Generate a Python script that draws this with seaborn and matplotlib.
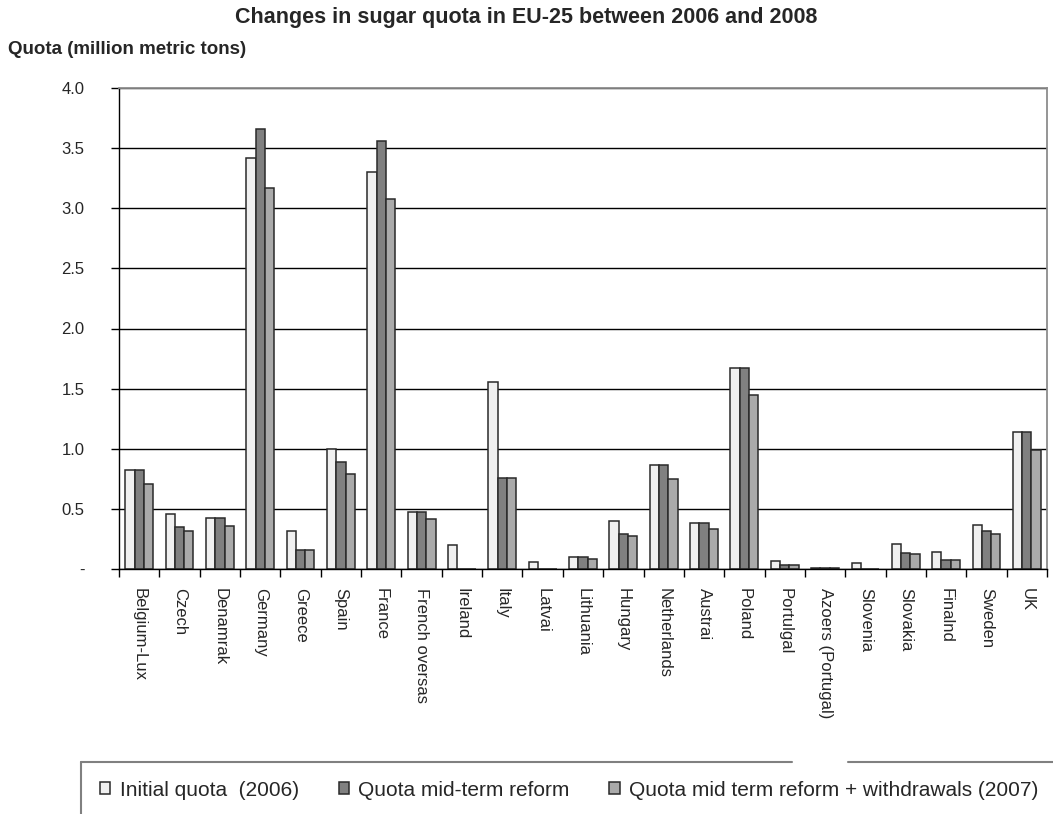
import numpy as np
import pandas as pd
import matplotlib.pyplot as plt
import seaborn as sns
from matplotlib.lines import Line2D

# data (million metric tons)
countries = ['Belgium-Lux', 'Czech', 'Denamrak', 'Germany', 'Greece', 'Spain', 'France',
             'French oversas', 'Ireland', 'Italy', 'Latvai', 'Lithuania', 'Hungary',
             'Netherlands', 'Austrai', 'Poland', 'Portulgal', 'Azoers (Portugal)',
             'Slovenia', 'Slovakia', 'Finalnd', 'Sweden', 'UK']
initial = [0.82, 0.455, 0.42, 3.42, 0.316, 1.00, 3.30, 0.477, 0.197, 1.557, 0.061, 0.10,
           0.40, 0.862, 0.385, 1.672, 0.067, 0.009, 0.053, 0.205, 0.144, 0.366, 1.139]
mid_term = [0.82, 0.35, 0.42, 3.66, 0.155, 0.887, 3.56, 0.477, 0.0, 0.754, 0.0, 0.10,
            0.294, 0.862, 0.385, 1.672, 0.033, 0.009, 0.0, 0.136, 0.072, 0.32, 1.139]
withdrawals = [0.71, 0.32, 0.36, 3.17, 0.155, 0.79, 3.08, 0.415, 0.0, 0.754, 0.0, 0.083,
               0.274, 0.746, 0.333, 1.447, 0.033, 0.009, 0.0, 0.127, 0.072, 0.288, 0.987]
series_names = ['Initial quota  (2006)', 'Quota mid-term reform',
                'Quota mid term reform + withdrawals (2007)']
series_colors = ['#f0f0f0', '#808080', '#aaaaaa']
ytick_vals = [0, 0.5, 1.0, 1.5, 2.0, 2.5, 3.0, 3.5, 4.0]
ytick_labels = ['-', '0.5', '1.0', '1.5', '2.0', '2.5', '3.0', '3.5', '4.0']

df = pd.DataFrame({
    'country': countries * 3,
    'quota': initial + mid_term + withdrawals,
    'series': np.repeat(series_names, len(countries)),
})

sns.set_style('white')
plt.rcParams['font.family'] = ['Liberation Sans', 'DejaVu Sans']

W, H = 1053, 814
fig = plt.figure(figsize=(W / 100, H / 100), dpi=100)
ax = fig.add_axes([119 / W, 1 - 569 / H, (1047 - 119) / W, (569 - 88) / H])

sns.barplot(data=df, x='country', y='quota', hue='series', hue_order=series_names,
            palette=series_colors, saturation=1, width=0.69, edgecolor='#2a2a2a',
            linewidth=1.1, ax=ax)

handles, labels = ax.get_legend_handles_labels()
ax.get_legend().remove()

ax.set_xlim(-0.5, len(countries) - 0.5)
ax.set_ylim(0, 4)
ax.set_yticks(ytick_vals)
ax.set_yticklabels(ytick_labels)
ax.yaxis.grid(True, color='black', lw=1)
ax.set_axisbelow(True)
ax.set_xlabel('')
ax.set_ylabel('')

for side in ['left', 'bottom']:
    ax.spines[side].set_color('black')
    ax.spines[side].set_linewidth(1)
for side in ['top', 'right']:
    ax.spines[side].set_color('#8c8c8c')
    ax.spines[side].set_linewidth(1.3)

ax.tick_params(axis='y', left=True, direction='out', length=6, width=1, color='black',
               pad=19, labelsize=12)
ax.set_xticks(range(len(countries)))
ax.set_xticklabels(countries, rotation=-90, va='top', ha='center', fontsize=12)
ax.tick_params(axis='x', which='major', bottom=True, length=0, pad=14)
ax.set_xticks(np.arange(-0.5, len(countries), 1), minor=True)
ax.tick_params(axis='x', which='minor', bottom=True, direction='out', length=6, width=1,
               color='black')

fig.text(0.5, 1 - 17 / H, 'Changes in sugar quota in EU-25 between 2006 and 2008',
         ha='center', va='center', fontweight='bold', fontsize=15.5)
fig.text(8 / W, 1 - 50 / H, 'Quota (million metric tons)', ha='left', va='center',
         fontweight='bold', fontsize=13.5)

fig.legend(handles, labels, loc='center left', bbox_to_anchor=(100 / W, 1 - 790 / H),
           ncol=3, frameon=False, fontsize=15, handlelength=0.5, handleheight=0.5,
           handletextpad=0.45, columnspacing=1.9, borderaxespad=0, borderpad=0)

# legend border (runs off the figure, gap where the long label box cut it)
frame_kw = dict(transform=fig.transFigure, color='#808080', lw=1.5)
fig.add_artist(Line2D([81 / W, 792 / W], [1 - 762 / H] * 2, **frame_kw))
fig.add_artist(Line2D([848 / W, 1.0], [1 - 762 / H] * 2, **frame_kw))
fig.add_artist(Line2D([81 / W, 81 / W], [1 - 762 / H, 0], **frame_kw))

fig.savefig('out.png', dpi=100)
